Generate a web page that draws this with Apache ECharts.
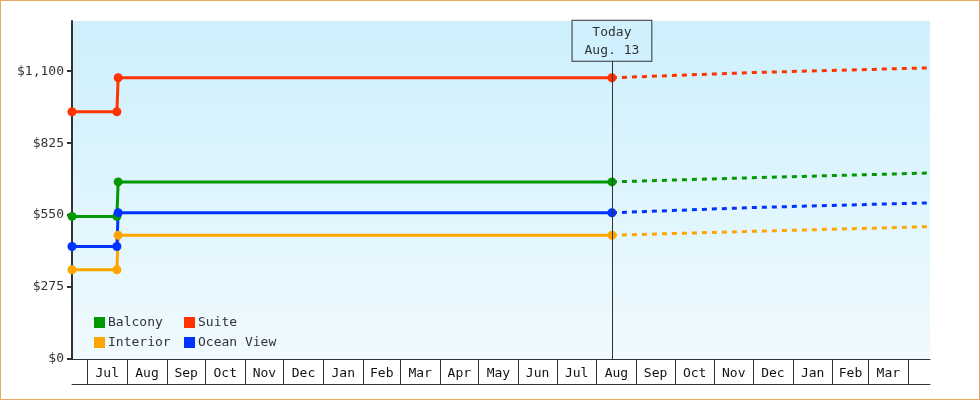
<!DOCTYPE html>
<html>
<head>
<meta charset="utf-8">
<title>Cabin prices</title>
<script src="https://cdn.jsdelivr.net/npm/echarts@6/dist/echarts.min.js"></script>
<style>
  html, body { margin: 0; padding: 0; background: #fff; }
  #chart { width: 980px; height: 400px; box-sizing: border-box; border: 1px solid #eaa963; }
</style>
</head>
<body>
<div id="chart"></div>
<script>
// price history (solid) up to today
var historyDates = ['2023-06-19', '2023-07-24', '2023-07-25', '2024-08-13'];
var balconyHist  = [545, 545, 677, 677];
var suiteHist    = [945, 945, 1075, 1075];
var interiorHist = [341, 341, 473, 473];
var oceanHist    = [430, 430, 559, 559];

// projection (dashed) from today on
var forecastDates = ['2024-08-13', '2024-12-01', '2025-04-18'];
var balconyFcst   = [677, 693, 711];
var suiteFcst     = [1075, 1095, 1113];
var interiorFcst  = [473, 488, 506];
var oceanFcst     = [559, 579, 597];

var axisStart = '2023-06-19';
var axisEnd = '2025-04-18';
var todayDate = '2024-08-13';
var todayText = 'Today\nAug. 13';

// month cells along the bottom
var monthStarts = ['2023-07-01', '2023-08-01', '2023-09-01', '2023-10-01', '2023-11-01', '2023-12-01',
    '2024-01-01', '2024-02-01', '2024-03-01', '2024-04-01', '2024-05-01', '2024-06-01', '2024-07-01',
    '2024-08-01', '2024-09-01', '2024-10-01', '2024-11-01', '2024-12-01', '2025-01-01', '2025-02-01',
    '2025-03-01', '2025-04-01'];
var monthNames = ['Jan', 'Feb', 'Mar', 'Apr', 'May', 'Jun', 'Jul', 'Aug', 'Sep', 'Oct', 'Nov', 'Dec'];

var yTicks = [0, 275, 550, 825, 1100];
var yMax = 1292;

var colors = {
    Balcony: '#009900',
    Suite: '#ff3300',
    Interior: '#ffa500',
    'Ocean View': '#0033ff'
};

var FONT = 'DejaVu Sans Mono';

function ts(s) {
    var p = s.split('-');
    return new Date(+p[0], +p[1] - 1, +p[2]).getTime();
}
function pairs(dates, vals) {
    return dates.map(function (d, i) { return [ts(d), vals[i]]; });
}

var tickVals = monthStarts.map(ts);
// label in the middle of each full month cell
var labelVals = [];
for (var i = 0; i < tickVals.length - 1; i++) {
    labelVals.push((tickVals[i] + tickVals[i + 1]) / 2);
}

var myChart = echarts.init(document.getElementById('chart'));

function histSeries(name, vals, extra) {
    var s = {
        name: name,
        type: 'line',
        data: pairs(historyDates, vals),
        symbol: 'circle',
        symbolSize: 9,
        showAllSymbol: true,
        lineStyle: { width: 3, color: colors[name] },
        itemStyle: { color: colors[name] },
        z: 3
    };
    if (extra) { for (var k in extra) s[k] = extra[k]; }
    return s;
}
function fcstSeries(name, vals) {
    return {
        name: name,
        type: 'line',
        data: pairs(forecastDates, vals),
        showSymbol: false,
        symbol: 'none',
        lineStyle: { width: 3, type: [5, 5], color: colors[name] },
        itemStyle: { color: colors[name] },
        z: 2
    };
}

function legendBox(left, names) {
    return {
        left: left,
        top: 315,
        padding: 0,
        orient: 'vertical',
        icon: 'rect',
        itemWidth: 11,
        itemHeight: 11,
        itemGap: 7,
        data: names,
        textStyle: { fontFamily: FONT, fontSize: 13, color: '#333', padding: [0, 0, 0, -2] }
    };
}

var option = {
    animation: false,
    textStyle: { fontFamily: FONT },
    grid: {
        left: 71,
        right: 49,
        top: 20,
        bottom: 40,
        show: true,
        borderWidth: 0,
        backgroundColor: new echarts.graphic.LinearGradient(0, 0, 0, 1, [
            { offset: 0, color: '#cdf0fc' },
            { offset: 1, color: '#f0faff' }
        ])
    },
    legend: [
        legendBox(93, ['Balcony', 'Interior']),
        legendBox(183, ['Suite', 'Ocean View'])
    ],
    xAxis: [
        {
            type: 'value',
            min: ts(axisStart),
            max: ts(axisEnd),
            position: 'bottom',
            axisLine: { show: true, lineStyle: { color: '#333', width: 1 } },
            axisTick: {
                show: true,
                customValues: tickVals,
                length: 25,
                lineStyle: { color: '#333', width: 1 }
            },
            axisLabel: {
                customValues: labelVals,
                margin: 8,
                color: '#111',
                fontFamily: FONT,
                fontSize: 13,
                formatter: function (v) {
                    return monthNames[new Date(v).getMonth()];
                }
            },
            splitLine: { show: false }
        },
        {
            type: 'value',
            min: ts(axisStart),
            max: ts(axisEnd),
            position: 'bottom',
            offset: 25,
            axisLine: { show: true, lineStyle: { color: '#333', width: 1 } },
            axisTick: { show: false },
            axisLabel: { show: false },
            splitLine: { show: false }
        }
    ],
    yAxis: {
        type: 'value',
        min: 0,
        max: yMax,
        axisLine: { show: true, lineStyle: { color: '#333', width: 2 } },
        axisTick: {
            show: true,
            customValues: yTicks,
            length: 5,
            lineStyle: { color: '#333', width: 2 }
        },
        axisLabel: {
            customValues: yTicks,
            margin: 8,
            color: '#333',
            fontFamily: FONT,
            fontSize: 13,
            formatter: function (v) {
                return '$' + v.toLocaleString('en-US');
            }
        },
        splitLine: { show: false }
    },
    series: [
        histSeries('Balcony', balconyHist),
        histSeries('Suite', suiteHist, {
            markLine: {
                silent: true,
                symbol: ['none', 'none'],
                lineStyle: { color: '#333', width: 1, type: 'solid' },
                label: {
                    show: true,
                    position: 'end',
                    distance: 0,
                    formatter: todayText,
                    fontFamily: FONT,
                    fontSize: 13,
                    lineHeight: 18,
                    color: '#333',
                    align: 'center',
                    borderColor: '#333',
                    borderWidth: 1,
                    backgroundColor: '#cff0fc',
                    padding: [3, 12, 1, 12]
                },
                emphasis: { disabled: true },
                data: [[
                    { coord: [ts(todayDate), 0] },
                    { coord: [ts(todayDate), 1140] }
                ]]
            }
        }),
        histSeries('Interior', interiorHist),
        histSeries('Ocean View', oceanHist),
        fcstSeries('Balcony', balconyFcst),
        fcstSeries('Suite', suiteFcst),
        fcstSeries('Interior', interiorFcst),
        fcstSeries('Ocean View', oceanFcst)
    ]
};

myChart.setOption(option);

window.onresize = function () {
    myChart.resize();
};
</script>
</body>
</html>
